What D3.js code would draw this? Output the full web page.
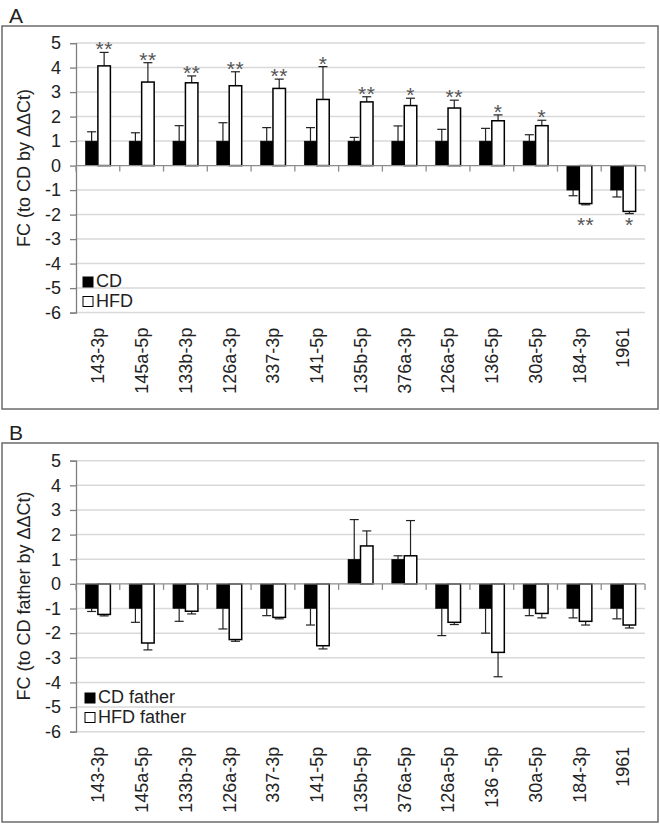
<!DOCTYPE html>
<html>
<head>
<meta charset="utf-8">
<script src="https://cdn.jsdelivr.net/npm/d3@7"></script>
<style>
  html, body { margin: 0; padding: 0; background: #fff; }
  svg { display: block; font-family: "Liberation Sans", Arial, sans-serif; }
</style>
</head>
<body>
<svg id="chart" width="660" height="828"></svg>
<script>
// ---------- data ----------
const categoriesA = ["143-3p","145a-5p","133b-3p","126a-3p","337-3p","141-5p","135b-5p","376a-3p","126a-5p","136-5p","30a-5p","184-3p","1961"];
const cdA      = [1, 1, 1, 1, 1, 1, 1, 1, 1, 1, 1, -1, -1];
const cdErrA   = [0.38, 0.34, 0.63, 0.75, 0.55, 0.55, 0.15, 0.62, 0.48, 0.52, 0.26, 0.23, 0.28];
const hfdA     = [4.07, 3.41, 3.38, 3.26, 3.15, 2.70, 2.60, 2.45, 2.35, 1.83, 1.63, -1.55, -1.87];
const hfdErrA  = [0.55, 0.79, 0.28, 0.57, 0.38, 1.34, 0.21, 0.30, 0.32, 0.24, 0.22, 0.05, 0.09];
const sigA     = ["**","**","**","**","**","*","**","*","**","*","*","**","*"];

const categoriesB = ["143-3p","145a-5p","133b-3p","126a-3p","337-3p","141-5p","135b-5p","376a-5p","126a-5p","136 -5p","30a-5p","184-3p","1961"];
const cdB      = [-1, -1, -1, -1, -1, -1, 1, 1, -1, -1, -1, -1, -1];
const cdErrB   = [0.12, 0.56, 0.52, 0.83, 0.29, 0.67, 1.61, 0.14, 1.10, 1.00, 0.29, 0.38, 0.42];
const hfdB     = [-1.24, -2.40, -1.11, -2.26, -1.36, -2.51, 1.54, 1.14, -1.56, -2.78, -1.20, -1.52, -1.67];
const hfdErrB  = [0.06, 0.28, 0.11, 0.07, 0.06, 0.13, 0.61, 1.43, 0.09, 0.99, 0.18, 0.15, 0.12];
const sigB     = ["","","","","","","","","","","","",""];

const yTicks = [-6, -5, -4, -3, -2, -1, 0, 1, 2, 3, 4, 5];
const seriesA = ["CD", "HFD"];
const seriesB = ["CD father", "HFD father"];

// ---------- drawing ----------
const svg = d3.select("#chart");
const FONT = 18;

function drawPanel(p) {
  const g = svg.append("g");
  // frame
  g.append("rect").attr("x", p.box[0]).attr("y", p.box[1])
    .attr("width", p.box[2] - p.box[0]).attr("height", p.box[3] - p.box[1])
    .attr("fill", "none").attr("stroke", "#6b6b6b").attr("stroke-width", 1.5);
  g.append("text").attr("x", 9).attr("y", p.box[1] - 3)
    .attr("font-size", 21).attr("fill", "#222").text(p.letter);

  const x0 = d3.scaleBand().domain(p.cats).range([p.left, p.right]).paddingInner(0).paddingOuter(0);
  const x1 = d3.scaleBand().domain(p.series).range([0, x0.bandwidth()]).paddingInner(0).paddingOuter(0.75);
  const y = d3.scaleLinear().domain([-6, 5]).range([p.bottom, p.top]);

  // gridlines
  g.append("g").selectAll("line").data(yTicks.filter(d => d !== 0)).join("line")
    .attr("x1", p.left).attr("x2", p.right)
    .attr("y1", d => y(d)).attr("y2", d => y(d))
    .attr("stroke", "#d9d9d9").attr("stroke-width", 1.5);

  // y axis
  const ya = g.append("g").attr("transform", `translate(${p.left},0)`)
    .call(d3.axisLeft(y).tickValues(yTicks).tickSize(6).tickPadding(9).tickFormat(d3.format("d")));
  ya.select(".domain").attr("stroke", "#7f7f7f").attr("stroke-width", 1.3);
  ya.selectAll(".tick line").attr("stroke", "#7f7f7f").attr("stroke-width", 1.3);
  ya.selectAll(".tick text").attr("font-size", FONT).attr("fill", "#222")
    .attr("font-family", "Liberation Sans, Arial, sans-serif").text(d => d < 0 ? "-" + Math.abs(d) : d);

  // y title
  g.append("text")
    .attr("transform", `translate(${p.titleX},${p.titleY}) rotate(-90)`)
    .attr("text-anchor", "middle").attr("dy", "0.35em")
    .attr("font-size", FONT).attr("fill", "#222").text(p.yTitle);

  // bars
  const rows = p.cats.map((c, i) => ({
    cat: c,
    vals: [
      { s: p.series[0], v: p.cd[i], e: p.cdErr[i] },
      { s: p.series[1], v: p.hfd[i], e: p.hfdErr[i] }
    ],
    sig: p.sig[i]
  }));

  const grp = g.append("g").selectAll("g").data(rows).join("g")
    .attr("transform", d => `translate(${x0(d.cat)},0)`);

  // error bars (behind bars)
  const eb = grp.selectAll("g.eb").data(d => d.vals).join("g").attr("class", "eb");
  eb.append("line")
    .attr("x1", d => x1(d.s) + x1.bandwidth() / 2).attr("x2", d => x1(d.s) + x1.bandwidth() / 2)
    .attr("y1", d => y(d.v)).attr("y2", d => y(d.v + Math.sign(d.v) * d.e))
    .attr("stroke", "#222").attr("stroke-width", 1.2);
  eb.append("line")
    .attr("x1", d => x1(d.s) + x1.bandwidth() / 2 - 4.5).attr("x2", d => x1(d.s) + x1.bandwidth() / 2 + 4.5)
    .attr("y1", d => y(d.v + Math.sign(d.v) * d.e)).attr("y2", d => y(d.v + Math.sign(d.v) * d.e))
    .attr("stroke", "#222").attr("stroke-width", 1.2);

  grp.selectAll("rect").data(d => d.vals).join("rect")
    .attr("x", d => x1(d.s)).attr("width", x1.bandwidth())
    .attr("y", d => y(Math.max(0, d.v))).attr("height", d => Math.abs(y(d.v) - y(0)))
    .attr("fill", (d, i) => i === 0 ? "#000" : "#fff")
    .attr("stroke", "#000").attr("stroke-width", (d, i) => i === 0 ? 0.5 : 1.5);

  // significance
  grp.filter(d => d.sig).append("text")
    .attr("x", d => x1(p.series[1]) + x1.bandwidth() / 2)
    .attr("y", d => {
      const h = d.vals[1];
      return h.v > 0 ? y(h.v + h.e) + 4 : y(-2.3) + 10;
    })
    .attr("text-anchor", "middle").attr("font-size", 21).attr("fill", "#555")
    .attr("letter-spacing", 0.5)
    .text(d => d.sig);

  // x axis line at 0 with ticks at category boundaries
  g.append("line").attr("x1", p.left).attr("x2", p.right)
    .attr("y1", y(0)).attr("y2", y(0)).attr("stroke", "#8c8c8c").attr("stroke-width", 1.3);
  const bounds = p.cats.map(c => x0(c)).concat([p.right]);
  g.append("g").selectAll("line").data(bounds).join("line")
    .attr("x1", d => d).attr("x2", d => d)
    .attr("y1", y(0)).attr("y2", y(0) + 6)
    .attr("stroke", "#8c8c8c").attr("stroke-width", 1.3);

  // category labels
  g.append("g").selectAll("text").data(p.cats).join("text")
    .attr("transform", d => `translate(${x0(d) + x0.bandwidth() / 2},${p.bottom + 15}) rotate(-90)`)
    .attr("text-anchor", "end").attr("dy", "0.35em")
    .attr("font-size", FONT).attr("fill", "#222").text(d => d);

  // legend
  const lg = g.append("g").selectAll("g").data(p.series).join("g")
    .attr("transform", (d, i) => `translate(${p.legX},${p.legY + i * 19.5})`);
  lg.append("rect").attr("x", 0).attr("y", -10).attr("width", 10).attr("height", 10)
    .attr("fill", (d, i) => i === 0 ? "#000" : "#fff").attr("stroke", "#000").attr("stroke-width", 1);
  lg.append("text").attr("x", 13).attr("y", 0).attr("font-size", FONT).attr("fill", "#222").text(d => d);
}

drawPanel({
  letter: "A", box: [2, 26, 658, 409],
  left: 76, right: 645, top: 43.1, bottom: 312.6,
  cats: categoriesA, series: seriesA,
  cd: cdA, cdErr: cdErrA, hfd: hfdA, hfdErr: hfdErrA, sig: sigA,
  yTitle: "FC (to CD by \u0394\u0394Ct)", titleX: 24, titleY: 168,
  legX: 83, legY: 287
});

drawPanel({
  letter: "B", box: [2, 443, 658, 822],
  left: 76, right: 645, top: 460.7, bottom: 731.7,
  cats: categoriesB, series: seriesB,
  cd: cdB, cdErr: cdErrB, hfd: hfdB, hfdErr: hfdErrB, sig: sigB,
  yTitle: "FC (to CD father by \u0394\u0394Ct)", titleX: 24, titleY: 596,
  legX: 85, legY: 703
});
</script>
</body>
</html>
